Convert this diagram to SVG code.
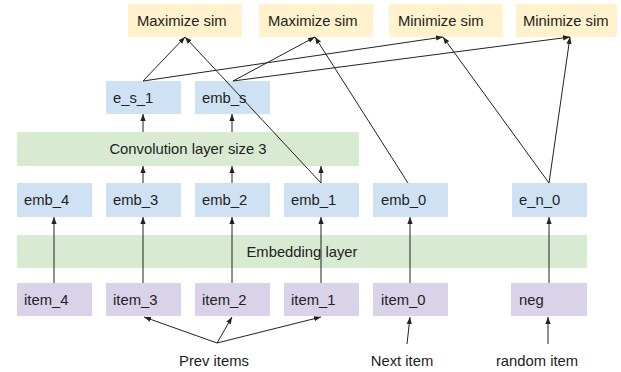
<svg xmlns="http://www.w3.org/2000/svg" width="621" height="372" viewBox="0 0 621 372">
<defs>
<marker id="ah" viewBox="0 0 8 6" refX="8" refY="3" markerWidth="7" markerHeight="5.5" markerUnits="userSpaceOnUse" orient="auto">
<path d="M0,0 L8,3 L0,6 z" fill="#222"/>
</marker>
<style>
text{font-family:"Liberation Sans",Arial,sans-serif;font-size:14.8px;fill:#222}
.c{text-anchor:middle}
.y{fill:#fff2cc}
.b{fill:#cfe2f3}
.g{fill:#d9ead3}
.p{fill:#d9d2e9}
#connectors line{stroke:#222;stroke-width:1}
.a{marker-end:url(#ah)}
</style>
</defs>
<g id="max1"><rect class="y" x="128" y="4" width="114" height="33"/><text x="137" y="26">Maximize sim</text></g>
<g id="max2"><rect class="y" x="259" y="4" width="114" height="33"/><text x="268" y="26">Maximize sim</text></g>
<g id="min1"><rect class="y" x="389" y="4" width="114" height="33"/><text x="398" y="26">Minimize sim</text></g>
<g id="min2"><rect class="y" x="516" y="4" width="101" height="33"/><text x="523" y="26">Minimize sim</text></g>
<g id="e_s_1"><rect class="b" x="106" y="81" width="75" height="33"/><text x="113" y="103">e_s_1</text></g>
<g id="emb_s"><rect class="b" x="195" y="81" width="75" height="33"/><text x="202" y="103">emb_s</text></g>
<g id="conv"><rect class="g" x="17" y="132" width="342" height="34"/><text class="c" x="188" y="154">Convolution layer size 3</text></g>
<g id="emb_4"><rect class="b" x="17" y="183" width="75" height="34"/><text x="24" y="205">emb_4</text></g>
<g id="emb_3"><rect class="b" x="106" y="183" width="75" height="34"/><text x="113" y="205">emb_3</text></g>
<g id="emb_2"><rect class="b" x="195" y="183" width="75" height="34"/><text x="202" y="205">emb_2</text></g>
<g id="emb_1"><rect class="b" x="284" y="183" width="75" height="34"/><text x="291" y="205">emb_1</text></g>
<g id="emb_0"><rect class="b" x="373" y="183" width="75" height="34"/><text x="381" y="205">emb_0</text></g>
<g id="e_n_0"><rect class="b" x="512" y="183" width="75" height="34"/><text x="519" y="205">e_n_0</text></g>
<g id="embedding"><rect class="g" x="17" y="235" width="570" height="33"/><text class="c" x="302" y="257">Embedding layer</text></g>
<g id="item_4"><rect class="p" x="17" y="283" width="75" height="33"/><text x="24" y="305">item_4</text></g>
<g id="item_3"><rect class="p" x="106" y="283" width="75" height="33"/><text x="113" y="305">item_3</text></g>
<g id="item_2"><rect class="p" x="195" y="283" width="75" height="33"/><text x="202" y="305">item_2</text></g>
<g id="item_1"><rect class="p" x="284" y="283" width="75" height="33"/><text x="291" y="305">item_1</text></g>
<g id="item_0"><rect class="p" x="373" y="283" width="75" height="33"/><text x="381" y="305">item_0</text></g>
<g id="neg"><rect class="p" x="511" y="283" width="76" height="33"/><text x="519" y="305">neg</text></g>
<g id="prev"><text class="c" x="214" y="366">Prev items</text></g>
<g id="next"><text class="c" x="402" y="366">Next item</text></g>
<g id="random"><text class="c" x="537" y="366">random item</text></g>
<g id="connectors">
<line class="a" x1="143" y1="81" x2="185" y2="37"/>
<line class="a" x1="143" y1="81" x2="443" y2="37"/>
<line class="a" x1="233" y1="81" x2="315" y2="37"/>
<line class="a" x1="233" y1="81" x2="570" y2="37"/>
<line class="a" x1="321" y1="183" x2="185" y2="37"/>
<line class="a" x1="408" y1="183" x2="315" y2="37"/>
<line class="a" x1="549" y1="183" x2="443" y2="37"/>
<line class="a" x1="549" y1="183" x2="570" y2="37"/>
<line class="a" x1="143" y1="132" x2="143" y2="114"/>
<line class="a" x1="232" y1="132" x2="232" y2="114"/>
<line class="a" x1="143" y1="183" x2="143" y2="166"/>
<line class="a" x1="232" y1="183" x2="232" y2="166"/>
<line class="a" x1="321" y1="183" x2="321" y2="166"/>
<line class="a" x1="54" y1="283" x2="54" y2="217"/>
<line class="a" x1="143" y1="283" x2="143" y2="217"/>
<line class="a" x1="232" y1="283" x2="232" y2="217"/>
<line class="a" x1="321" y1="283" x2="321" y2="217"/>
<line class="a" x1="410" y1="283" x2="410" y2="217"/>
<line class="a" x1="549" y1="283" x2="549" y2="217"/>
<line class="a" x1="217" y1="343" x2="144" y2="317"/>
<line class="a" x1="217" y1="343" x2="232" y2="317"/>
<line class="a" x1="217" y1="343" x2="321" y2="317"/>
<line class="a" x1="407" y1="344" x2="410" y2="317"/>
<line class="a" x1="548" y1="344" x2="548" y2="317"/>
</g>
</svg>
